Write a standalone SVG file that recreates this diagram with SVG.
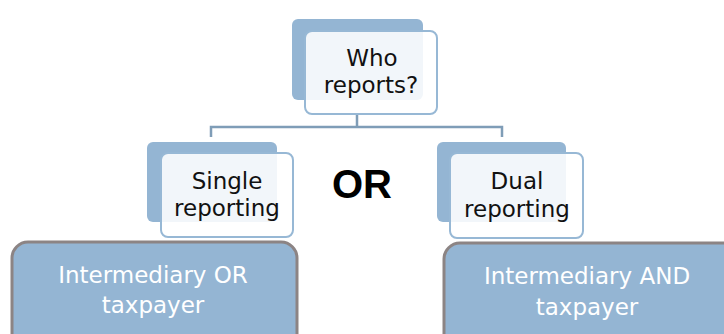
<svg xmlns="http://www.w3.org/2000/svg" width="724" height="334" viewBox="0 0 724 334">
  <style>
    .back { fill: #94b5d3; }
    .front { fill: #ffffff; fill-opacity: 0.88; stroke: #97b8d5; stroke-width: 2; }
    .leaf { fill: #94b5d3; stroke: #8c8484; stroke-width: 3; }
    .dark { font-family: "DejaVu Sans", "Liberation Sans", sans-serif; font-size: 23px; fill: #111111; text-anchor: middle; }
    .light { font-family: "DejaVu Sans", "Liberation Sans", sans-serif; font-size: 23px; fill: #ffffff; text-anchor: middle; }
    .conn { fill: none; stroke: #7f9db7; stroke-width: 2.5; }
  </style>

  <g id="connectors">
    <path class="conn" d="M357 114 V127 M211 137 V127 H502 V137"/>
  </g>

  <g id="who-reports">
    <rect class="back" x="292" y="19" width="131" height="81" rx="6"/>
    <rect class="front" x="305" y="31" width="132" height="83" rx="7"/>
    <text class="dark" x="372" y="66">Who</text>
    <text class="dark" x="371" y="93">reports?</text>
  </g>

  <g id="single-reporting">
    <rect class="back" x="147" y="142" width="130" height="80" rx="6"/>
    <rect class="front" x="161" y="153" width="132" height="84" rx="7"/>
    <text class="dark" x="227" y="189">Single</text>
    <text class="dark" x="227" y="216">reporting</text>
  </g>

  <g id="or-label">
    <text x="362" y="198" font-family="Liberation Sans, Arial, sans-serif" font-size="40" font-weight="bold" fill="#000000" text-anchor="middle">OR</text>
  </g>

  <g id="dual-reporting">
    <rect class="back" x="437" y="142" width="129" height="80" rx="6"/>
    <rect class="front" x="450" y="153" width="133" height="85" rx="7"/>
    <text class="dark" x="517" y="189">Dual</text>
    <text class="dark" x="517" y="217">reporting</text>
  </g>

  <g id="intermediary-or-taxpayer">
    <rect class="leaf" x="12" y="242" width="285" height="110" rx="16"/>
    <text class="light" x="153" y="283">Intermediary OR</text>
    <text class="light" x="153" y="313">taxpayer</text>
  </g>

  <g id="intermediary-and-taxpayer">
    <rect class="leaf" x="444" y="243" width="300" height="110" rx="16"/>
    <text class="light" x="587" y="284">Intermediary AND</text>
    <text class="light" x="587" y="315">taxpayer</text>
  </g>
</svg>
